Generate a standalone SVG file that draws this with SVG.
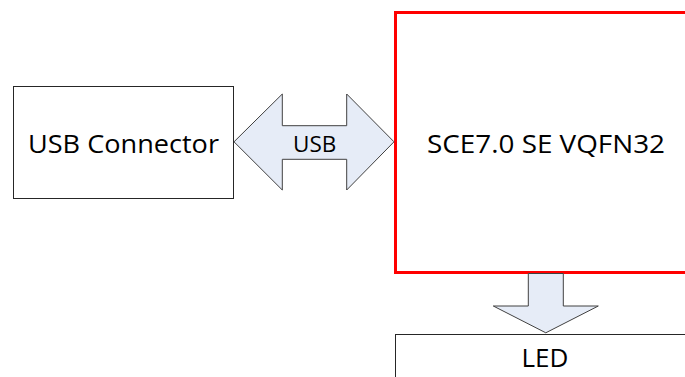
<svg xmlns="http://www.w3.org/2000/svg" width="685" height="377" viewBox="0 0 685 377">
<style>
.box{fill:#fff;stroke:#262626;stroke-width:1}
.red{fill:#fff;stroke:#ff0000;stroke-width:3}
.arr{fill:#e6ecf7;stroke:#404040;stroke-width:1;stroke-linejoin:miter}
.t{font-family:"Open Sans","Liberation Sans",sans-serif;fill:#000;text-anchor:middle}
</style>
<rect width="685" height="377" fill="#fff"/>
<g id="usb-connector">
<rect class="box" x="13.5" y="86.5" width="220" height="112"/>
<text class="t" x="123.5" y="152.5" font-size="26" textLength="191" lengthAdjust="spacingAndGlyphs">USB Connector</text>
</g>
<g id="sce">
<rect class="red" x="395.5" y="12.5" width="300" height="260"/>
<text class="t" x="546" y="153" font-size="26" textLength="238" lengthAdjust="spacingAndGlyphs">SCE7.0 SE VQFN32</text>
</g>
<g id="led">
<rect class="box" x="395.5" y="334.5" width="300" height="60"/>
<text class="t" x="545" y="366.5" font-size="26">LED</text>
</g>
<g id="connectors">
<path class="arr" d="M234,141.8 L282.3,94 L282.3,125.7 L346.7,125.7 L346.7,94 L394,141.8 L346.7,190 L346.7,159.3 L282.3,159.3 L282.3,190 Z"/>
<text class="t" x="314.7" y="151.5" font-size="22.5">USB</text>
<path class="arr" d="M528.3,273.5 L563.3,273.5 L563.3,306 L598.3,306 L545.8,332.8 L493.3,306 L528.3,306 Z"/>
</g>
</svg>
